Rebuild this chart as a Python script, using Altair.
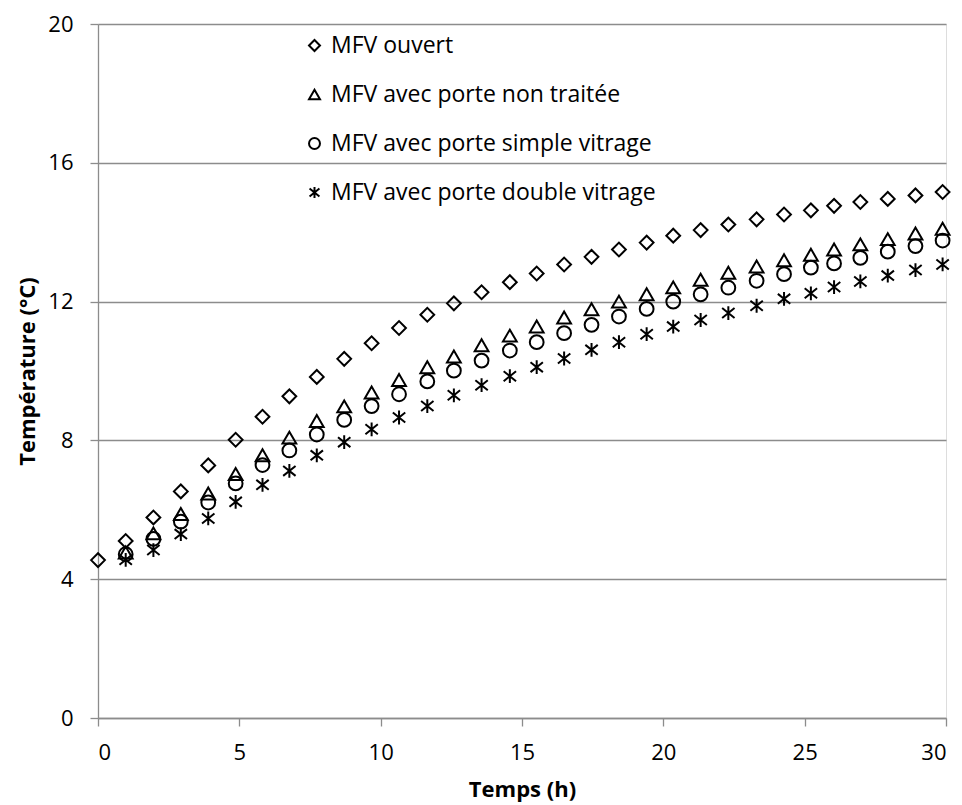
import altair as alt
import pandas as pd

# Time (h)
hours = [0.00, 0.98, 1.96, 2.93, 3.90, 4.87, 5.82, 6.77, 7.74, 8.71, 9.68, 10.65,
         11.65, 12.59, 13.57, 14.57, 15.52, 16.49, 17.46, 18.43, 19.41, 20.35,
         21.32, 22.30, 23.30, 24.27, 25.22, 26.04, 26.97, 27.94, 28.92, 29.88]

series_names = ["MFV ouvert", "MFV avec porte non traitée",
                "MFV avec porte simple vitrage", "MFV avec porte double vitrage"]

ouvert = [4.55, 5.10, 5.78, 6.53, 7.28, 8.02, 8.68, 9.27, 9.83, 10.35, 10.80, 11.24,
          11.62, 11.95, 12.27, 12.56, 12.81, 13.07, 13.29, 13.50, 13.70, 13.90,
          14.06, 14.22, 14.37, 14.51, 14.63, 14.76, 14.87, 14.96, 15.06, 15.16]
non_traitee = [4.77, 5.32, 5.88, 6.47, 7.03, 7.57, 8.08, 8.56, 8.98, 9.38, 9.74,
               10.11, 10.42, 10.74, 11.02, 11.28, 11.54, 11.78, 12.00, 12.21, 12.41,
               12.63, 12.83, 13.01, 13.19, 13.35, 13.50, 13.65, 13.80, 13.96, 14.10]
simple_vitrage = [4.72, 5.16, 5.66, 6.21, 6.76, 7.29, 7.71, 8.17, 8.59, 8.99, 9.33,
                  9.70, 10.01, 10.30, 10.59, 10.83, 11.09, 11.33, 11.57, 11.79, 12.00,
                  12.21, 12.40, 12.60, 12.79, 12.98, 13.10, 13.26, 13.44, 13.60, 13.76]
double_vitrage = [4.56, 4.84, 5.30, 5.75, 6.23, 6.72, 7.12, 7.57, 7.95, 8.32, 8.66,
                  8.99, 9.30, 9.59, 9.85, 10.11, 10.36, 10.61, 10.83, 11.06, 11.28,
                  11.47, 11.67, 11.88, 12.08, 12.24, 12.42, 12.58, 12.75, 12.91, 13.07]

x_ticks = [0, 5, 10, 15, 20, 25, 30]
y_ticks = [0, 4, 8, 12, 16, 20]

rows = []
for name, vals in zip(series_names, [ouvert, non_traitee, simple_vitrage, double_vitrage]):
    xs = hours[len(hours) - len(vals):]
    for t, v in zip(xs, vals):
        rows.append({"serie": name, "temps": t, "temp": v})
df = pd.DataFrame(rows)

asterisk = "M0,-1L0,1M-0.9,-0.72L0.9,0.72M-0.9,0.72L0.9,-0.72"
FONT = "Open Sans"
GRID = "#8c8c8c"

chart = alt.Chart(df).mark_point(filled=False, size=190, strokeWidth=2, color="black", opacity=1).encode(
    x=alt.X("temps:Q", scale=alt.Scale(domain=[0, 30], nice=False, zero=False),
            axis=alt.Axis(values=x_ticks, title="Temps (h)", grid=False,
                          domainColor=GRID, domainWidth=1.3, tickColor=GRID, tickWidth=1.3,
                          tickSize=8, labelFont=FONT, labelFontSize=22, labelColor="black",
                          labelPadding=16, titleFont=FONT, titleFontSize=22,
                          titleFontWeight="bold", titleColor="black", titlePadding=16)),
    y=alt.Y("temp:Q", scale=alt.Scale(domain=[0, 20], nice=False),
            axis=alt.Axis(values=y_ticks, title="Température (°C)", grid=True,
                          gridColor=GRID, gridWidth=1.3, domainColor=GRID, domainWidth=1.3,
                          tickColor=GRID, tickWidth=1.3, tickSize=8, labelFont=FONT,
                          labelFontSize=22, labelColor="black", labelPadding=17,
                          titleFont=FONT, titleFontSize=22, titleFontWeight="bold",
                          titleColor="black", titlePadding=8)),
    shape=alt.Shape("serie:N",
                    scale=alt.Scale(domain=series_names,
                                    range=["diamond", "triangle-up", "circle", asterisk]),
                    legend=alt.Legend(orient="none", legendX=205, legendY=10, title=None,
                                      labelFont=FONT, labelFontSize=23, labelColor="black",
                                      labelOffset=5, rowPadding=25, symbolSize=120,
                                      symbolStrokeColor="black", symbolStrokeWidth=2,
                                      symbolFillColor="transparent", labelLimit=600,
                                      padding=0)),
    order=alt.Order("serie_order:Q"),
).transform_calculate(
    serie_order="indexof(" + str(series_names) + ", datum.serie)"
).properties(
    width=848, height=694,
    autosize=alt.AutoSizeParams(type="none"),
    padding={"left": 90, "top": 16, "right": 8, "bottom": 90},
).configure_view(stroke=None).configure(background="white")

chart.save("out.html", embed_options={"renderer": "svg", "actions": False})
